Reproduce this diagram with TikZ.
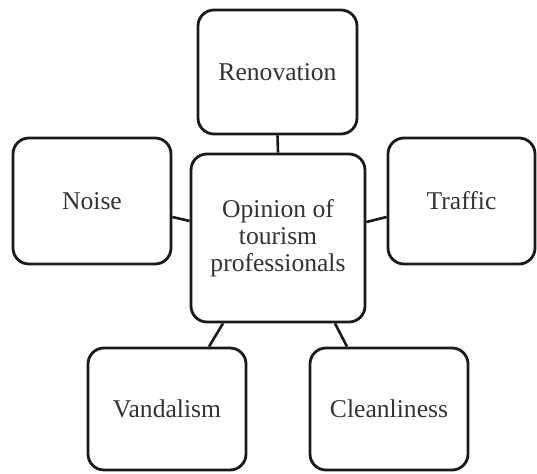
\documentclass[tikz,border=0pt]{standalone}
\usepackage{fontspec}
\newfontfamily\boxfont{Liberation Serif}
\definecolor{txt}{HTML}{333333}
\definecolor{edge}{HTML}{1A1A1A}
\begin{document}
\begin{tikzpicture}[x=1pt,y=-1pt,
  box/.style={draw=edge, line width=2.8pt, rounded corners=16pt, fill=white,
    text=txt, font=\boxfont\fontsize{25.6}{27}\selectfont, align=center, inner sep=0pt},
  link/.style={draw=edge, line width=2.6pt}]
\useasboundingbox (0,0) rectangle (537,473);
\node[box, minimum width=159pt, minimum height=124pt] (ren) at (277.5,72) {Renovation};
\node[box, minimum width=174pt, minimum height=168pt] (cen) at (278,238) {Opinion of\\tourism\\professionals};
\node[box, minimum width=158pt, minimum height=126pt] (noise) at (92,201) {Noise};
\node[box, minimum width=147pt, minimum height=126pt] (traf) at (461.5,201) {Traffic};
\node[box, minimum width=158pt, minimum height=122pt] (vand) at (167,409) {Vandalism};
\node[box, minimum width=158pt, minimum height=122pt] (clean) at (389,409) {Cleanliness};
\draw[link] (ren.south) -- (cen.north);
\draw[link] ([yshift=-16pt]noise.east) -- ([yshift=17pt]cen.west);
\draw[link] ([yshift=16pt]cen.east) -- ([yshift=-16pt]traf.west);
\draw[link] ([xshift=-55pt]cen.south) -- ([xshift=42pt]vand.north);
\draw[link] ([xshift=57pt]cen.south) -- ([xshift=-42pt]clean.north);
\end{tikzpicture}
\end{document}
